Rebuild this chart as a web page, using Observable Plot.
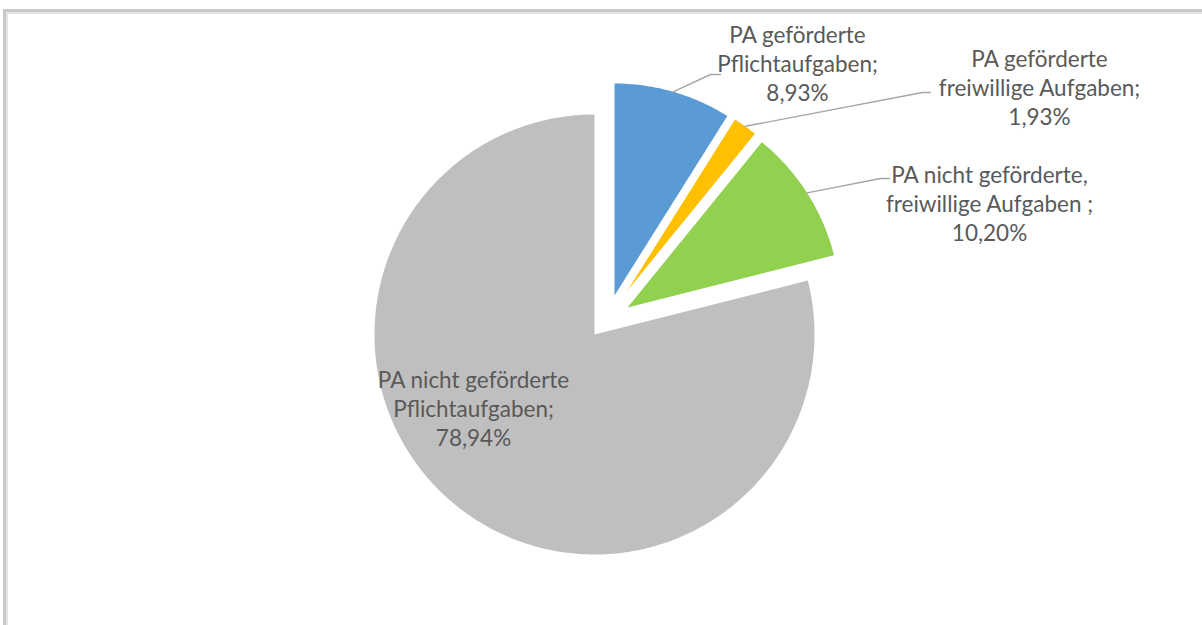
<!DOCTYPE html>
<html>
<head>
<meta charset="utf-8">
<script src="https://cdn.jsdelivr.net/npm/d3@7"></script>
<script src="https://cdn.jsdelivr.net/npm/@observablehq/plot@0.6"></script>
<style>
  html, body { margin: 0; padding: 0; background: #fff; overflow: hidden; }
  #wrap { position: relative; width: 1202px; height: 625px; }
  #frame { position: absolute; left: 3px; top: 9px; width: 1400px; height: 800px;
           border-top: 3px solid #c8c8c8; border-left: 3px solid #c8c8c8;
           box-shadow: inset 2px 2px 0 #e4e4e4; box-sizing: border-box; }
  #chart { position: absolute; left: 0; top: 0; }
</style>
</head>
<body>
<div id="wrap"><div id="frame"></div><div id="chart"></div></div>
<script>
// ---- data ----
const categories = [
  "PA geförderte Pflichtaufgaben",
  "PA geförderte freiwillige Aufgaben",
  "PA nicht geförderte, freiwillige Aufgaben",
  "PA nicht geförderte Pflichtaufgaben"
];
const values = [8.93, 1.93, 10.20, 78.94];
const labelNames = [
  ["PA geförderte", "Pflichtaufgaben;"],
  ["PA geförderte", "freiwillige Aufgaben;"],
  ["PA nicht geförderte,", "freiwillige Aufgaben ;"],
  ["PA nicht geförderte", "Pflichtaufgaben;"]
];

// ---- styles / layout ----
const colors = ["#5b9bd5", "#ffc000", "#92d050", "#bfbfbf"];
const W = 1202, H = 625;
const center = [594, 334];
const sliceLayout = [
  {dx: 20, dy: -39, r: 212},
  {dx: 33, dy: -44, r: 202},
  {dx: 33, dy: -27, r: 213},
  {dx: 0,  dy: 0,   r: 220}
];
const labelPos = [[797, 62], [1039, 86], [989, 202], [473, 407]];
const leaderBends = [
  [[710, 74], [720, 74]],
  [[922, 92], [930, 92]],
  [[880, 178], [889, 178]],
  null
];

// ---- geometry from data ----
const pie = d3.pie().sort(null).value(d => d)(values);
const slicePts = [];
pie.forEach((p, i) => {
  const L = sliceLayout[i];
  const cx = center[0] + L.dx, cy = center[1] + L.dy;
  const cat = categories[i];
  slicePts.push({cat, x: cx, y: cy});
  const n = Math.max(8, Math.ceil((p.endAngle - p.startAngle) * 90));
  for (let k = 0; k <= n; k++) {
    const a = p.startAngle + (p.endAngle - p.startAngle) * k / n;
    slicePts.push({cat, x: cx + L.r * Math.sin(a), y: cy - L.r * Math.cos(a)});
  }
  slicePts.push({cat, x: cx, y: cy});
});

const leaderPts = [];
pie.forEach((p, i) => {
  if (!leaderBends[i]) return;
  const L = sliceLayout[i];
  const a = (p.startAngle + p.endAngle) / 2;
  const cx = center[0] + L.dx, cy = center[1] + L.dy;
  leaderPts.push({cat: categories[i], x: cx + L.r * Math.sin(a), y: cy - L.r * Math.cos(a)});
  leaderBends[i].forEach(([x, y]) => leaderPts.push({cat: categories[i], x, y}));
});

const fmt = v => v.toFixed(2).replace(".", ",") + "%";
const labels = categories.map((c, i) => ({
  cat: c,
  x: labelPos[i][0], y: labelPos[i][1],
  text: labelNames[i].join("\n") + "\n" + fmt(values[i])
}));

const chart = Plot.plot({
  width: W, height: H,
  margin: 0,
  x: {domain: [0, W], range: [0, W], axis: null},
  y: {domain: [0, H], range: [0, H], axis: null},
  color: {domain: categories, range: colors},
  style: {background: "transparent", fontFamily: "Lato, 'Open Sans', sans-serif"},
  marks: [
    Plot.line(slicePts, {x: "x", y: "y", z: "cat", fill: "cat", stroke: null, curve: "linear-closed"}),
    Plot.line(leaderPts, {x: "x", y: "y", z: "cat", stroke: "#a6a6a6", strokeWidth: 1.4}),
    Plot.text(labels, {x: "x", y: "y", text: "text", fill: "#595959", fontSize: 22.5,
                       lineHeight: 29 / 22.5, textAnchor: "middle"})
  ]
});
document.getElementById("chart").appendChild(chart);
</script>
</body>
</html>
